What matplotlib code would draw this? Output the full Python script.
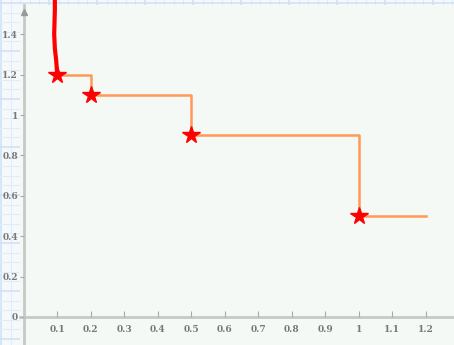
import matplotlib
matplotlib.use("Agg")
import matplotlib.pyplot as plt
import numpy as np

# step line (orange)
step_x = [0.1, 0.2, 0.5, 1.0, 1.2]
step_y = [1.2, 1.1, 0.9, 0.5, 0.5]

# star points
star_x = [0.1, 0.2, 0.5, 1.0]
star_y = [1.2, 1.1, 0.9, 0.5]

# red hand-drawn curve going up from the first point
curve_x = [0.1, 0.097, 0.093, 0.091, 0.092, 0.093, 0.093]
curve_y = [1.2, 1.27, 1.33, 1.40, 1.46, 1.52, 1.58]

x_ticks = [0.1, 0.2, 0.3, 0.4, 0.5, 0.6, 0.7, 0.8, 0.9, 1, 1.1, 1.2]
x_labels = ["0.1", "0.2", "0.3", "0.4", "0.5", "0.6", "0.7", "0.8", "0.9", "1", "1.1", "1.2"]
y_ticks = [0, 0.2, 0.4, 0.6, 0.8, 1, 1.2, 1.4]
y_labels = ["0", "0.2", "0.4", "0.6", "0.8", "1", "1.2", "1.4"]

W, H = 454, 345
fig = plt.figure(figsize=(W / 100, H / 100), dpi=100)
fig.patch.set_facecolor("#f5f9fc")

# graph paper behind everything
bg = fig.add_axes([0, 0, 1, 1], zorder=0)
bg.set_xlim(0, W)
bg.set_ylim(H, 0)
bg.axis("off")
for i, p in enumerate(np.arange(1, W, 9.6)):
    bg.axvline(p, color="#e0ecf7" if i % 5 else "#cfe1f2", lw=0.8 if i % 5 else 1.1)
for i, p in enumerate(np.arange(3, H, 9.6)):
    bg.axhline(p, color="#e0ecf7" if i % 5 else "#cfe1f2", lw=0.8 if i % 5 else 1.1)

ax = fig.add_axes([20 / W, 0, 434 / W, 340 / H], zorder=1)
ax.set_facecolor("#f5f9f6")
ax.set_xlim(-0.011, 1.284)
ax.set_ylim(-0.139, 1.545)

for side in ["top", "right"]:
    ax.spines[side].set_visible(False)
for side in ["left", "bottom"]:
    ax.spines[side].set_position(("data", 0))
    ax.spines[side].set_color("#c8c8c8")
    ax.spines[side].set_linewidth(2)
    ax.spines[side].set_zorder(1)

ax.plot(0, 1.51, marker="^", color="#999999", ms=4, clip_on=False, zorder=2)

ax.set_xticks(x_ticks)
ax.set_xticklabels(x_labels)
ax.set_yticks(y_ticks)
ax.set_yticklabels(y_labels)
ax.tick_params(axis="x", direction="in", length=4, color="#aaaaaa", pad=6)
ax.tick_params(axis="y", direction="out", length=3, color="#aaaaaa", pad=1)
for lab in ax.get_xticklabels() + ax.get_yticklabels():
    lab.set_family("DejaVu Serif")
    lab.set_fontsize(6.5)
    lab.set_fontweight("bold")
    lab.set_color("#777777")

ax.step(step_x, step_y, where="post", color="#ff9955", lw=1.8, zorder=3)
ax.plot(curve_x, curve_y, color="#ff0000", lw=3, solid_capstyle="round",
        clip_on=False, zorder=4)
ax.plot(star_x, star_y, linestyle="none", marker="*", color="#ff0000", ms=13, zorder=5)

fig.savefig("out.png", dpi=100, facecolor=fig.get_facecolor())
